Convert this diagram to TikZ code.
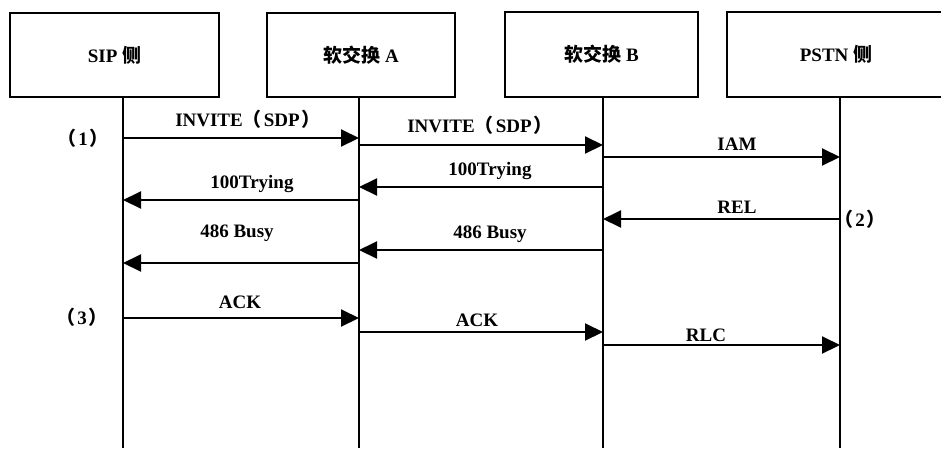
\documentclass[tikz,border=0pt]{standalone}
\usepackage{fontspec}
\setmainfont{Liberation Serif}
\newfontfamily\cjk{Noto Sans CJK SC}
\usetikzlibrary{arrows.meta}
\newcommand{\lp}{{\cjk （}\hspace{2pt}}
\newcommand{\rp}{\hspace{2pt}{\cjk ）}}
\begin{document}
\begin{tikzpicture}[x=1pt,y=-1pt,line width=1.8pt,
  actor/.style={draw,line width=2pt,inner sep=0pt,font=\fontsize{19}{22}\selectfont\bfseries},
  life/.style={line width=1.8pt},
  msg/.style={line width=2pt,-{Triangle[length=18pt,width=17pt]}},
  lbl/.style={inner sep=0pt,anchor=base,font=\fontsize{19}{22}\selectfont\bfseries},
  side/.style={inner sep=0pt,font=\fontsize{19}{22}\selectfont\bfseries}]
\useasboundingbox (0,0) rectangle (941,448);
\clip (0,0) rectangle (941,448);
% participants
\node[actor,minimum width=209pt,minimum height=84pt] (sip) at (114.5,55) {SIP {\cjk 侧}};
\node[actor,minimum width=188pt,minimum height=84pt] (swa) at (361,55) {{\cjk 软交换} A};
\node[actor,minimum width=193pt,minimum height=85pt] (swb) at (601.5,54.5) {{\cjk 软交换} B};
\node[actor,minimum width=218pt,minimum height=85pt] (pstn) at (836,54.5) {PSTN {\cjk 侧}};
% lifelines
\coordinate (l1) at (123,448);
\coordinate (l2) at (359,448);
\coordinate (l3) at (603,448);
\coordinate (l4) at (840,448);
\draw[life] (sip.south -| l1) -- (l1);
\draw[life] (swa.south -| l2) -- (l2);
\draw[life] (swb.south -| l3) -- (l3);
\draw[life] (pstn.south -| l4) -- (l4);
% message end points
\coordinate (m1a) at (123,138); \coordinate (m1b) at (359,138);
\coordinate (m2a) at (359,145); \coordinate (m2b) at (603,145);
\coordinate (m3a) at (603,157); \coordinate (m3b) at (840,157);
\coordinate (m4a) at (603,187); \coordinate (m4b) at (359,187);
\coordinate (m5a) at (359,200); \coordinate (m5b) at (123,200);
\coordinate (m6a) at (840,219); \coordinate (m6b) at (603,219);
\coordinate (m7a) at (603,250); \coordinate (m7b) at (359,250);
\coordinate (m8a) at (359,263); \coordinate (m8b) at (123,263);
\coordinate (m9a) at (123,318); \coordinate (m9b) at (359,318);
\coordinate (m10a) at (359,332); \coordinate (m10b) at (603,332);
\coordinate (m11a) at (603,345); \coordinate (m11b) at (840,345);
\draw[msg] (m1a) -- (m1b);
\draw[msg] (m2a) -- (m2b);
\draw[msg] (m3a) -- (m3b);
\draw[msg] (m4a) -- (m4b);
\draw[msg] (m5a) -- (m5b);
\draw[msg] (m6a) -- (m6b);
\draw[msg] (m7a) -- (m7b);
\draw[msg] (m8a) -- (m8b);
\draw[msg] (m9a) -- (m9b);
\draw[msg] (m10a) -- (m10b);
\draw[msg] (m11a) -- (m11b);
% labels
\node[lbl] (t1) at (248,126) {INVITE\lp SDP\rp};
\node[lbl] (t2) at (480,132) {INVITE\lp SDP\rp};
\node[lbl] (t3) at (737,150) {IAM};
\node[lbl] (t4) at (490,175) {100Trying};
\node[lbl] (t5) at (252,188) {100Trying};
\node[lbl] (t6) at (737,213) {REL};
\node[lbl] (t7) at (490,238) {486 Busy};
\node[lbl] (t8) at (237,237) {486 Busy};
\node[lbl] (t9) at (240,308) {ACK};
\node[lbl] (t10) at (477,326) {ACK};
\node[lbl] (t11) at (706,341) {RLC};
\node[side] (s1) at (83,138) {\lp 1\rp};
\node[side] (s2) at (860,219) {\lp 2\rp};
\node[side] (s3) at (82,317) {\lp 3\rp};
\end{tikzpicture}
\end{document}
